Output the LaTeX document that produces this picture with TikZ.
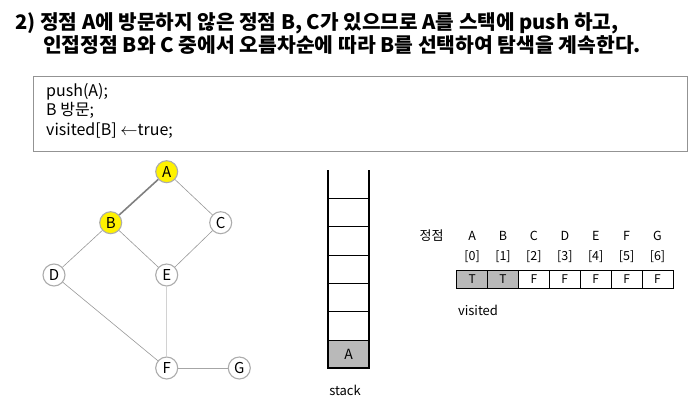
\documentclass[tikz,border=0pt]{standalone}
\usepackage{fontspec}
\setmainfont{Noto Sans CJK KR}
\usetikzlibrary{positioning}

\begin{document}
\begin{tikzpicture}[
    x=1pt, y=-1pt,
    title_text/.style={anchor=base west, inner sep=0pt, font=\fontsize{20}{20}\selectfont\bfseries},
    code_box/.style={draw=gray!85, line width=1.4pt, minimum width=654pt, minimum height=75pt, anchor=north west},
    code_text/.style={anchor=base west, inner sep=0pt, font=\fontsize{16}{16}\selectfont},
    vert/.style={circle, draw=gray!65, fill=white, minimum size=22pt, inner sep=0pt, line width=1.1pt, font=\fontsize{15}{15}\selectfont},
    visit_vert/.style={vert, fill=yellow},
    edge_style/.style={draw=gray!80, line width=0.6pt},
    stack_cell/.style={rectangle, draw=black, line width=0.7pt, minimum width=41.6pt, minimum height=28.3pt, inner sep=0pt, outer sep=0pt, font=\fontsize{14}{14}\selectfont},
    arr_cell/.style={rectangle, draw=black, line width=0.6pt, minimum width=30.9pt, minimum height=18.3pt, inner sep=0pt, outer sep=0pt, font=\fontsize{12}{12}\selectfont},
    small_label/.style={inner sep=0pt, font=\fontsize{12.5}{12.5}\selectfont}
]

\useasboundingbox (0,0) rectangle (700,409);

% Title
\node[title_text, xscale=1.01] (title1) at (15,30) {2) 정점 A에 방문하지 않은 정점 B, C가 있으므로 A를 스택에 push 하고,};
\node[title_text, xscale=1.02] (title2) at (43,53) {인접정점 B와 C 중에서 오름차순에 따라 B를 선택하여 탐색을 계속한다.};

% Code box
\node[code_box] (code) at (33,76) {};
\node[code_text] (code1) at (46,96) {push(A);};
\node[code_text] (code2) at (46,115.5) {B 방문;};
\node[code_text] (code3) at (46,135) {visited[B] $\leftarrow$true;};

% Graph nodes
\node[visit_vert] (a) at (166.7,171.7) {A};
\node[visit_vert] (b) at (110.7,222.7) {B};
\node[vert] (c) at (220.7,222.7) {C};
\node[vert] (d) at (54,275) {D};
\node[vert] (e) at (166.7,275) {E};
\node[vert] (f) at (166.7,368) {F};
\node[vert] (g) at (239.3,368) {G};

% Graph edges
\draw[edge_style, draw=gray, line width=1.6pt] (a) -- (b);
\draw[edge_style] (a) -- (c);
\draw[edge_style] (b) -- (d);
\draw[edge_style] (b) -- (e);
\draw[edge_style] (c) -- (e);
\draw[edge_style] (d) -- (f);
\draw[edge_style, draw=gray!35, line width=1.3pt] (e) -- (f);
\draw[edge_style, draw=gray!70, line width=1pt] (f) -- (g);

% Stack
\node[stack_cell, fill=gray!55] (s0) at (348.5,354) {A};
\node[stack_cell, above=0pt of s0] (s1) {};
\node[stack_cell, above=0pt of s1] (s2) {};
\node[stack_cell, above=0pt of s2] (s3) {};
\node[stack_cell, above=0pt of s3] (s4) {};
\node[stack_cell, above=0pt of s4] (s5) {};
\coordinate (stop_l) at (327.7,170);
\coordinate (stop_r) at (369.3,170);
\draw[black, line width=2pt] (stop_l) -- (s0.south west) -- (s0.south east) -- (stop_r);
\node[small_label, font=\fontsize{13}{13}\selectfont] (stack_label) at (345,390) {stack};

% Visited array
\node[small_label, font=\fontsize{13}{13}\selectfont] (vert_label) at (431.7,236) {정점};
\node[arr_cell, fill=gray!55] (v0) at (472.1,279.2) {T};
\node[arr_cell, fill=gray!55, right=0pt of v0] (v1) {T};
\node[arr_cell, right=0pt of v1] (v2) {F};
\node[arr_cell, right=0pt of v2] (v3) {F};
\node[arr_cell, right=0pt of v3] (v4) {F};
\node[arr_cell, right=0pt of v4] (v5) {F};
\node[arr_cell, right=0pt of v5] (v6) {F};
\foreach \i/\name in {0/A,1/B,2/C,3/D,4/E,5/F,6/G} {
    \node[small_label] (n\i) at (v\i |- 0,236) {\name};
    \node[small_label] (idx\i) at (v\i |- 0,257) {[\i]};
}
\node[small_label, font=\fontsize{13}{13}\selectfont] (visited_label) at (478,310) {visited};

\end{tikzpicture}
\end{document}
